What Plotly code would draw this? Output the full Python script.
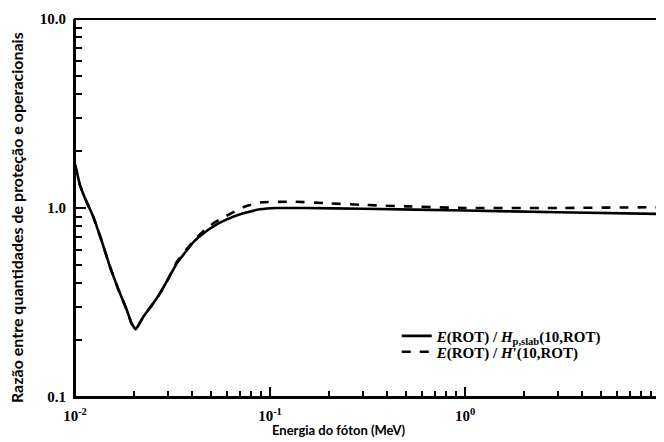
import plotly.graph_objects as go

energy_solid = [0.0100, 0.0103, 0.0106, 0.0112, 0.0118, 0.0124, 0.0137, 0.0151, 0.0167, 0.0184,
                0.0195, 0.0205, 0.0224, 0.0250, 0.0273, 0.0300, 0.0333, 0.0405, 0.0460, 0.0513,
                0.060, 0.073, 0.0888, 0.108, 0.15, 0.3, 1.0, 3.0, 10.0]
ratio_solid = [1.70, 1.50, 1.32, 1.14, 1.01, 0.90, 0.67, 0.49, 0.37, 0.29,
               0.245, 0.228, 0.266, 0.31, 0.354, 0.42, 0.51, 0.66, 0.74, 0.80,
               0.87, 0.937, 0.984, 1.00, 1.00, 0.99, 0.97, 0.95, 0.93]

energy_dash = [0.0100, 0.0103, 0.0106, 0.0112, 0.0118, 0.0124, 0.0137, 0.0151, 0.0167, 0.0184,
               0.0195, 0.0205, 0.0224, 0.0250, 0.0273, 0.0300, 0.0333, 0.0405, 0.0460, 0.0513,
               0.0598, 0.073, 0.089, 0.131, 0.195, 0.29, 0.5, 1.0, 3.0, 10.0]
ratio_dash = [1.70, 1.50, 1.32, 1.14, 1.01, 0.90, 0.67, 0.49, 0.37, 0.29,
              0.245, 0.228, 0.266, 0.31, 0.354, 0.42, 0.52, 0.67, 0.76, 0.83,
              0.91, 1.01, 1.07, 1.08, 1.06, 1.04, 1.02, 1.00, 1.00, 1.01]

x_major = [0.01, 0.1, 1, 10]
x_major_text = ["<b>10<sup>-2</sup></b>", "<b>10<sup>-1</sup></b>", "<b>10<sup>0</sup></b>", "<b>10</b>"]
y_major = [0.1, 1, 10]
y_major_text = ["<b>0.1</b>", "<b>1.0</b>", "<b>10.0</b>"]
x_minor = [m * d for d in (0.01, 0.1, 1) for m in range(2, 10)]
y_minor = [m * d for d in (0.1, 1) for m in range(2, 10)]

name_solid = "<b><i>E</i>(ROT) / <i>H</i><sub>p,slab</sub>(10,ROT)</b>"
name_dash = "<b><i>E</i>(ROT) / <i>H</i>'(10,ROT)</b>"

x_title = "Energia do fóton (MeV)"
y_title = "Razão entre quantidades de proteção e operacionais"

fig = go.Figure()
fig.add_trace(go.Scatter(x=energy_solid, y=ratio_solid, mode="lines", name=name_solid,
                         legend="legend",
                         line=dict(color="black", width=2.6, shape="spline", smoothing=0.3)))
fig.add_trace(go.Scatter(x=energy_dash, y=ratio_dash, mode="lines", name=name_dash,
                         legend="legend2",
                         line=dict(color="black", width=2.6, dash="dash", shape="spline", smoothing=0.3)))
# invisible carriers so the overlaid tick-only axes are drawn
for xa, ya in (("x2", "y2"), ("x3", "y3")):
    fig.add_trace(go.Scatter(x=energy_solid[:1], y=ratio_solid[:1], xaxis=xa, yaxis=ya,
                             mode="markers", marker=dict(opacity=0), showlegend=False,
                             hoverinfo="skip"))

legfont = dict(family="Liberation Serif", size=15, color="black")
tickfont = dict(family="Liberation Serif", size=15, color="black")


def tick_axis(kind, rng, overlay, side, vals, length):
    return dict(type="log", range=rng, overlaying=overlay, anchor="free", position=0,
                side=side, tickmode="array", tickvals=vals, showticklabels=False,
                ticks="outside", ticklen=length, tickwidth=1.8, tickcolor="black",
                showline=False, showgrid=False, zeroline=False)


fig.update_layout(
    width=656, height=434,
    margin=dict(l=67, r=4, t=11, b=45),
    paper_bgcolor="white", plot_bgcolor="white",
    showlegend=True,
    legend=dict(x=0.55, y=0.161, xanchor="left", yanchor="middle", font=legfont,
                bgcolor="rgba(0,0,0,0)", itemwidth=30),
    legend2=dict(x=0.55, y=0.119, xanchor="left", yanchor="middle", font=legfont,
                 bgcolor="rgba(0,0,0,0)", itemwidth=30),
    xaxis=dict(type="log", range=[-2, 1], tickmode="array", tickvals=x_major, ticktext=x_major_text,
               ticks="", showline=True, linecolor="black", linewidth=2, showgrid=False,
               zeroline=False, tickfont=tickfont, ticklabelstandoff=4),
    yaxis=dict(type="log", range=[-1, 1], tickmode="array", tickvals=y_major, ticktext=y_major_text,
               ticks="", showline=True, linecolor="black", linewidth=2, showgrid=False,
               zeroline=False, tickfont=tickfont, ticklabelstandoff=4),
    xaxis2=tick_axis("x", [-2, 1], "x", "top", x_minor, 6),
    yaxis2=tick_axis("y", [-1, 1], "y", "right", y_minor, 6),
    xaxis3=tick_axis("x", [-2, 1], "x", "top", x_major, 10),
    yaxis3=tick_axis("y", [-1, 1], "y", "right", y_major, 10),
    shapes=[dict(type="rect", xref="paper", yref="paper", x0=0, y0=0, x1=1, y1=1,
                 line=dict(color="black", width=2))],
    annotations=[
        dict(text="<b>" + x_title + "</b>", xref="paper", yref="paper", x=0.451, y=-0.087,
             xanchor="center", yanchor="middle", showarrow=False,
             font=dict(family="Lato", size=13, color="black")),
        dict(text="<b>" + y_title + "</b>", xref="paper", yref="paper", x=-0.1009, y=0.476,
             xanchor="center", yanchor="middle", showarrow=False, textangle=-90,
             font=dict(family="Lato", size=16, color="black")),
    ],
)

fig.write_html("out.html")
